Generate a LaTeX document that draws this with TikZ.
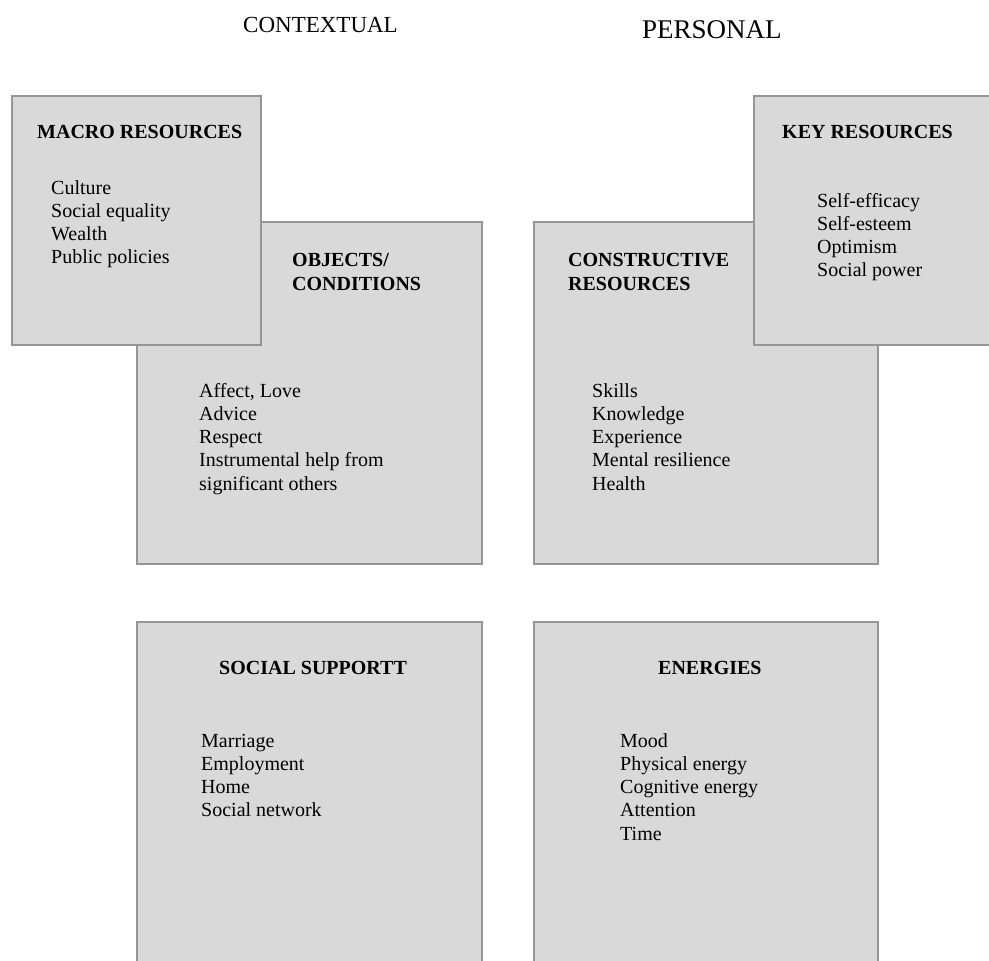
\documentclass[tikz,border=0pt]{standalone}
\usepackage{fontspec}
\setmainfont{Liberation Serif}
\definecolor{boxfill}{HTML}{D9D9D9}
\definecolor{boxline}{HTML}{969696}
\begin{document}
\begin{tikzpicture}[x=1pt,y=-1pt,
  box/.style={draw=boxline, fill=boxfill, line width=2pt, anchor=north west, inner sep=0pt, outer sep=0pt},
  title/.style={anchor=base west, inner sep=0pt, font=\fontsize{20}{23}\selectfont\bfseries},
  item/.style={anchor=base west, inner sep=0pt, font=\fontsize{20}{23}\selectfont},
  head/.style={anchor=base west, inner sep=0pt}]
\useasboundingbox (0,0) rectangle (989,961);
\clip (0,0) rectangle (989,961);
% headers
\node[head, font=\fontsize{23}{27}\selectfont] (hctx) at (243,32) {CONTEXTUAL};
\node[head, font=\fontsize{27}{31}\selectfont] (hpers) at (642,38) {PERSONAL};
% boxes
\node[box, minimum width=345pt, minimum height=342pt] (objects) at (137,222) {};
\node[box, minimum width=249pt, minimum height=249pt] (macro) at (12,96) {};
\node[box, minimum width=344pt, minimum height=342pt] (constr) at (534,222) {};
\node[box, minimum width=260pt, minimum height=249pt] (key) at (754,96) {};
\node[box, minimum width=345pt, minimum height=360pt] (social) at (137,622) {};
\node[box, minimum width=344pt, minimum height=360pt] (energy) at (534,622) {};
% macro
\node[title] (tmacro) at (37,138) {MACRO RESOURCES};
\foreach \t [count=\i] in {Culture, Social equality, Wealth, Public policies}
  \node[item] (macro\i) at (51,{194+23.3*(\i-1)}) {\t};
% objects
\node[title] (tobj1) at (292,266) {OBJECTS/};
\node[title] (tobj2) at (292,290) {CONDITIONS};
\foreach \t [count=\i] in {{Affect, Love}, Advice, Respect, Instrumental help from, significant others}
  \node[item] (obj\i) at (199,{397+23.3*(\i-1)}) {\t};
% key
\node[title] (tkey) at (782,138) {KEY RESOURCES};
\foreach \t [count=\i] in {Self-efficacy, Self-esteem, Optimism, Social power}
  \node[item] (key\i) at (817,{207+23.3*(\i-1)}) {\t};
% constructive
\node[title] (tcon1) at (568,266) {CONSTRUCTIVE};
\node[title] (tcon2) at (568,290) {RESOURCES};
\foreach \t [count=\i] in {Skills, Knowledge, Experience, Mental resilience, Health}
  \node[item] (con\i) at (592,{397+23.3*(\i-1)}) {\t};
% social
\node[title] (tsoc) at (219,674) {SOCIAL SUPPORTT};
\foreach \t [count=\i] in {Marriage, Employment, Home, Social network}
  \node[item] (soc\i) at (201,{747+23.3*(\i-1)}) {\t};
% energies
\node[title] (tene) at (658,674) {ENERGIES};
\foreach \t [count=\i] in {Mood, Physical energy, Cognitive energy, Attention, Time}
  \node[item] (ene\i) at (620,{747+23.3*(\i-1)}) {\t};
\end{tikzpicture}
\end{document}
